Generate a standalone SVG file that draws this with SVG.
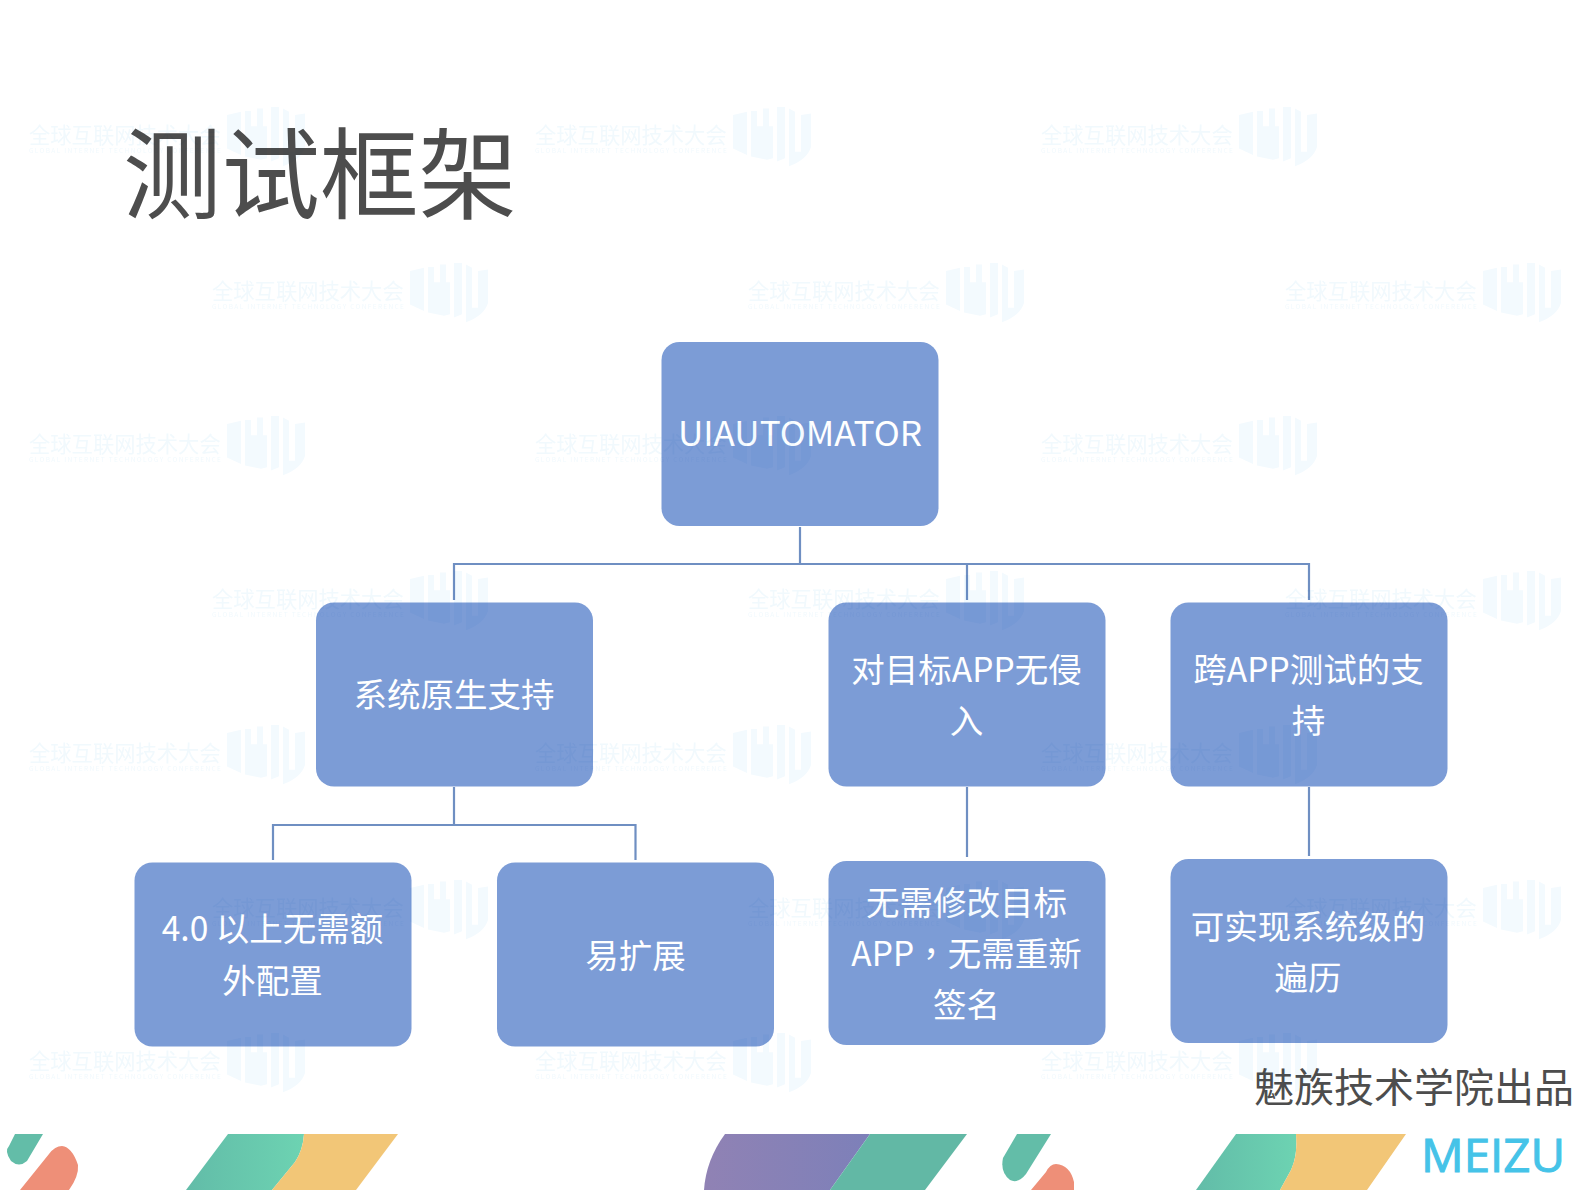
<svg xmlns="http://www.w3.org/2000/svg" xmlns:xlink="http://www.w3.org/1999/xlink" width="1587" height="1190" viewBox="0 0 1587 1190">
<style>
text{font-family:"Noto Sans CJK SC","Noto Sans",sans-serif}
.box{fill:#7c9cd6}
.lbl{fill:#fff;font-size:33.5px;text-anchor:middle}
.ln{fill:none;stroke:#6f8fc2;stroke-width:2.2}
.wm{fill:#f3fafe}
.wm text{fill:#f1f9fd}
#watermarks{mix-blend-mode:multiply}
</style>
<defs>
<linearGradient id="g1" x1="0" x2="1" y1="0" y2="0"><stop offset="0" stop-color="#62bca8"/><stop offset="1" stop-color="#6dd3b2"/></linearGradient>
<linearGradient id="p1" x1="0" x2="1" y1="0" y2="0"><stop offset="0" stop-color="#9082b4"/><stop offset="1" stop-color="#7d80b9"/></linearGradient>
<g id="wm" class="wm">
<text x="0" y="20" font-size="21.3">全球互联网技术大会</text>
<text x="0" y="30" font-size="6.6" textLength="192">GLOBAL INTERNET TECHNOLOGY CONFERENCE</text>
<path transform="scale(1 .8)" d="M198 -10L212 -14V40L198 32ZM216 -15H222V4H228V-18H234V4H238V44L232 46L216 42ZM242 -20H250V44L242 48ZM254 -18L260 -14V36H266V-10L276 -12V30Q272 46 254 54Z"/>
</g>
</defs>
<rect width="1587" height="1190" fill="#fff"/>
<g id="decor">
<path fill="#63bda8" d="M15 1134H43L27 1161Q19 1168 11 1161Q4 1151 9 1146Z"/>
<path fill="#ee8f78" d="M20 1190L49 1154Q55 1146 62 1146Q72 1147 78 1165Q79 1176 69 1190Z"/>
<path fill="url(#g1)" d="M228 1134H304Q303 1150 295 1162L272 1190H186Z"/>
<path fill="#f2c677" d="M304 1134H398L356 1190H272L295 1162Q303 1150 304 1134Z"/>
<path fill="url(#p1)" d="M725 1134H870L830 1190H704Q706 1160 725 1134Z"/>
<path fill="#62b8a5" d="M870 1134H967L925 1190H830Z"/>
<path fill="#63bda8" d="M1017 1134H1051L1026 1174Q1018 1184 1010 1180Q1000 1172 1003 1158Z"/>
<path fill="#ee8f78" d="M1031 1190L1046 1172Q1050 1164 1056 1164Q1070 1165 1074 1182V1190Z"/>
<path fill="url(#g1)" d="M1236 1134H1296Q1298 1155 1291 1170L1280 1190H1196Z"/>
<path fill="#f2c677" d="M1296 1134H1406L1367 1190H1280L1291 1170Q1298 1155 1296 1134Z"/>
<text id="brand" x="1421" y="1172" font-size="46" fill="#45c3e8" stroke="#45c3e8" stroke-width="1" textLength="144" lengthAdjust="spacingAndGlyphs" style="font-family:'Open Sans',sans-serif">MEIZU</text>
</g>
<g id="connectors" class="ln">
<path d="M800 527V564M454 600V564H1309V600M967 564V600"/>
<path d="M454 787V825M273 860V825H635.500V860"/>
<path d="M967 787V857"/>
<path d="M1309 787V856"/>
</g>
<g id="n-root"><rect class="box" x="661.500" y="342" width="277" height="184" rx="18"/><text class="lbl" x="800" y="446" textLength="244" lengthAdjust="spacingAndGlyphs">UIAUTOMATOR</text></g>
<g id="n-native"><rect class="box" x="316" y="602.500" width="277" height="184" rx="18"/><text class="lbl" x="454" y="707">系统原生支持</text></g>
<g id="n-noninvasive"><rect class="box" x="828.500" y="602.500" width="277" height="184" rx="18"/><text class="lbl" x="966.500" y="682">对目标APP无侵</text><text class="lbl" x="966.500" y="733">入</text></g>
<g id="n-crossapp"><rect class="box" x="1170.500" y="602.500" width="277" height="184" rx="18"/><text class="lbl" x="1308.500" y="682">跨APP测试的支</text><text class="lbl" x="1308.500" y="733">持</text></g>
<g id="n-noconfig"><rect class="box" x="134.500" y="862.500" width="277" height="184" rx="18"/><text class="lbl" x="272.500" y="941">4.0 以上无需额</text><text class="lbl" x="272.500" y="993">外配置</text></g>
<g id="n-extend"><rect class="box" x="497" y="862.500" width="277" height="184" rx="18"/><text class="lbl" x="635.500" y="968">易扩展</text></g>
<g id="n-nomodify"><rect class="box" x="828.500" y="861" width="277" height="184" rx="18"/><text class="lbl" x="966.500" y="915">无需修改目标</text><text class="lbl" x="966.500" y="966">APP<tspan style="font-family:'Noto Sans CJK TC',sans-serif">，</tspan>无需重新</text><text class="lbl" x="966.500" y="1017">签名</text></g>
<g id="n-traverse"><rect class="box" x="1170.500" y="859" width="277" height="184" rx="18"/><text class="lbl" x="1308" y="939">可实现系统级的</text><text class="lbl" x="1308" y="990">遍历</text></g>
<g id="title"><text x="123" y="211" font-size="98.500" fill="#4d4d4d">测试框架</text></g>
<g id="footer"><text x="1254" y="1102" font-size="40" fill="#4d4d4d">魅族技术学院出品</text></g>
<g id="watermarks">
<use xlink:href="#wm" href="#wm" x="29" y="123"/><use href="#wm" x="535" y="123"/><use href="#wm" x="1041" y="123"/>
<use href="#wm" x="212" y="279"/><use href="#wm" x="748" y="279"/><use href="#wm" x="1285" y="279"/>
<use href="#wm" x="29" y="432"/><use href="#wm" x="535" y="432"/><use href="#wm" x="1041" y="432"/>
<use href="#wm" x="212" y="587"/><use href="#wm" x="748" y="587"/><use href="#wm" x="1285" y="587"/>
<use href="#wm" x="29" y="741"/><use href="#wm" x="535" y="741"/><use href="#wm" x="1041" y="741"/>
<use href="#wm" x="212" y="896"/><use href="#wm" x="748" y="896"/><use href="#wm" x="1285" y="896"/>
<use href="#wm" x="29" y="1049"/><use href="#wm" x="535" y="1049"/><use href="#wm" x="1041" y="1049"/>
</g>
</svg>
